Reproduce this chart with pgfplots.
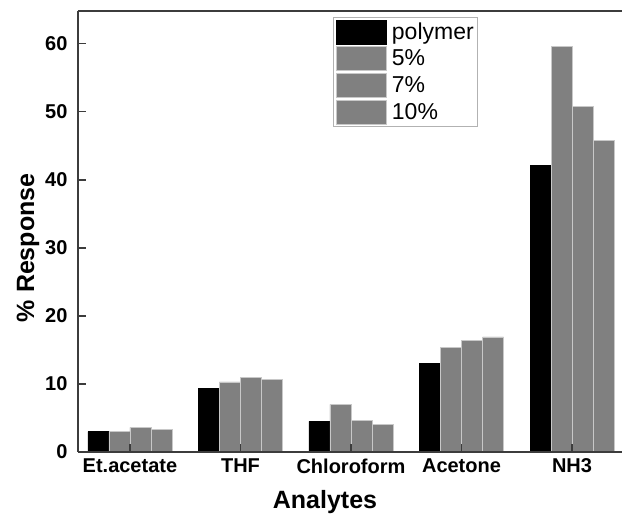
\documentclass[border=0pt]{standalone}
\usepackage{pgfplots}
\pgfplotsset{compat=1.18}
\usepackage{fontspec}
\setmainfont{Liberation Sans}
\definecolor{axc}{RGB}{60,60,60}
\definecolor{barg}{RGB}{128,128,128}
\definecolor{edgeg}{RGB}{200,200,200}
\begin{document}
\begin{tikzpicture}
\begin{axis}[
  scale only axis, width=544pt, height=441pt,
  xmin=-0.47, xmax=4.452, ymin=0, ymax=64.8,
  ybar=0pt, bar width=0.19,
  axis x line*=bottom, axis y line*=left,
  axis line style={axc, line width=2pt},
  tick style={axc, line width=1.5pt},
  major tick length=8pt,
  tick align=inside,
  axis on top,
  clip=false,
  xtick={0,1,2,3,4},
  xticklabels={Et.acetate,THF,Chloroform,Acetone,NH3},
  ytick={0,10,20,30,40,50,60},
  minor tick num=0,
  /pgf/number format/assume math mode=true,
  ticklabel style={font=\fontsize{20}{23}\selectfont\bfseries},
  yticklabel style={xshift=-7pt},
  xticklabel style={yshift=-3pt},
  xlabel={Analytes}, ylabel={\% Response},
  label style={font=\fontsize{25}{28}\selectfont\bfseries},
  xlabel style={at={(axis description cs:0.454,-0.113)}, anchor=center},
  ylabel style={at={(axis description cs:-0.092,0.463)}, anchor=center},
  legend style={at={(axis description cs:0.469,0.986)}, anchor=north west,
    draw=gray!60, line width=0.8pt, font=\fontsize{23}{25}\selectfont,
    inner sep=2pt, row sep=2pt},
  legend cell align=left,
  legend image code/.code={\path[#1] (0pt,-12pt) rectangle (50pt,12pt);
    \path[draw=none,fill=none] (0pt,0pt) -- (54pt,0pt);},
]
\addplot[fill=black, draw=black, line width=0.5pt] coordinates {(0,3.0) (1,9.3) (2,4.5) (3,13.0) (4,42.1)};
\addplot[fill=barg, draw=edgeg, line width=0.8pt] coordinates {(0,3.0) (1,10.3) (2,7.0) (3,15.3) (4,59.6)};
\addplot[fill=barg, draw=edgeg, line width=0.8pt] coordinates {(0,3.6) (1,11.0) (2,4.6) (3,16.4) (4,50.8)};
\addplot[fill=barg, draw=edgeg, line width=0.8pt] coordinates {(0,3.3) (1,10.7) (2,4.0) (3,16.9) (4,45.8)};
\legend{polymer,5\%,7\%,10\%}
\draw[axc, line width=2pt] (rel axis cs:0,1) -- (rel axis cs:1.02,1);
\end{axis}
\pgfresetboundingbox
\useasboundingbox (-78pt,-70pt) rectangle (544pt,452pt);
\end{tikzpicture}
\end{document}
